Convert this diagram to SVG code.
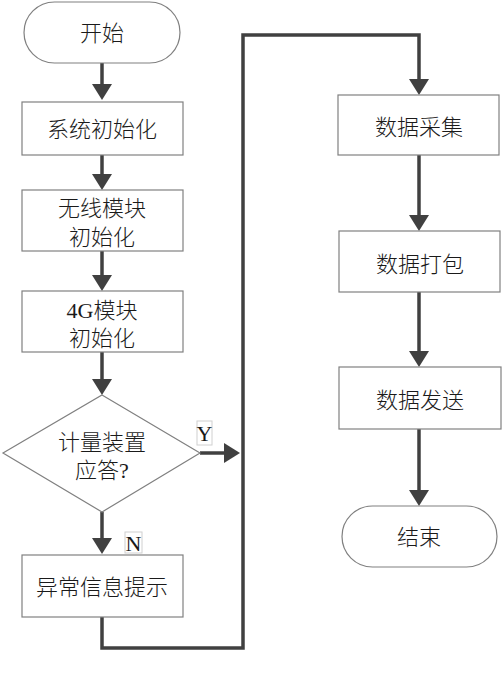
<svg xmlns="http://www.w3.org/2000/svg" width="502" height="673" viewBox="0 0 502 673">
<style>
.box{fill:#fff;stroke:#808080;stroke-width:1.2}
.t{font-family:"Liberation Serif","Noto Sans CJK SC",serif;font-size:22px;font-weight:300;fill:#1a1a1a;text-anchor:middle;dominant-baseline:central}
.c{fill:none;stroke:#404040;stroke-width:3.5}
.lb{fill:#fff;stroke:#d0d0d0;stroke-width:1}
</style>
<defs>
<marker id="ah" viewBox="0 0 16 20" refX="10" refY="10" markerWidth="16" markerHeight="20" markerUnits="userSpaceOnUse" orient="auto">
<path d="M0,0 L16,10 L0,20 z" fill="#404040"/>
</marker>
</defs>
<rect width="502" height="673" fill="#fff"/>
<g id="connectors">
<path class="c" d="M102,63 V94" marker-end="url(#ah)"/>
<path class="c" d="M102,155 V184" marker-end="url(#ah)"/>
<path class="c" d="M102,251 V285" marker-end="url(#ah)"/>
<path class="c" d="M102,352 V389" marker-end="url(#ah)"/>
<path class="c" d="M200,453 H234" marker-end="url(#ah)"/>
<path class="c" d="M102,512 V548" marker-end="url(#ah)"/>
<path class="c" d="M102,617 V648 H243 V35 H419 V89" marker-end="url(#ah)"/>
<path class="c" d="M419,155 V225" marker-end="url(#ah)"/>
<path class="c" d="M419,292 V361" marker-end="url(#ah)"/>
<path class="c" d="M419,429 V500" marker-end="url(#ah)"/>
<g id="label-y"><rect class="lb" x="197" y="421" width="15" height="24"/><text class="t" x="204.5" y="433">Y</text></g>
<g id="label-n"><rect class="lb" x="125" y="532" width="17" height="21"/><text class="t" x="133.5" y="543">N</text></g>
</g>
<g id="start"><rect class="box" x="24" y="2" width="156" height="61" rx="30.5"/><text class="t" x="102" y="33">开始</text></g>
<g id="sysinit"><rect class="box" x="22" y="102" width="161" height="53"/><text class="t" x="102" y="129">系统初始化</text></g>
<g id="wlinit"><rect class="box" x="22" y="190" width="161" height="61"/><text class="t" x="102" y="208">无线模块</text><text class="t" x="102" y="237">初始化</text></g>
<g id="g4init"><rect class="box" x="22" y="291" width="161" height="61"/><text class="t" x="102" y="310">4G模块</text><text class="t" x="102" y="338">初始化</text></g>
<g id="decision"><polygon class="box" points="102,395 200,453 102,512 3,453"/><text class="t" x="102" y="442">计量装置</text><text class="t" x="102" y="470">应答?</text></g>
<g id="error"><rect class="box" x="22" y="555" width="161" height="62"/><text class="t" x="102" y="587">异常信息提示</text></g>
<g id="collect"><rect class="box" x="338" y="95" width="161" height="60"/><text class="t" x="419" y="127">数据采集</text></g>
<g id="pack"><rect class="box" x="339" y="231" width="161" height="61"/><text class="t" x="420" y="264">数据打包</text></g>
<g id="send"><rect class="box" x="339" y="367" width="162" height="62"/><text class="t" x="420" y="400">数据发送</text></g>
<g id="end"><rect class="box" x="342" y="506" width="155" height="61" rx="30.5"/><text class="t" x="419" y="537">结束</text></g>
</svg>
